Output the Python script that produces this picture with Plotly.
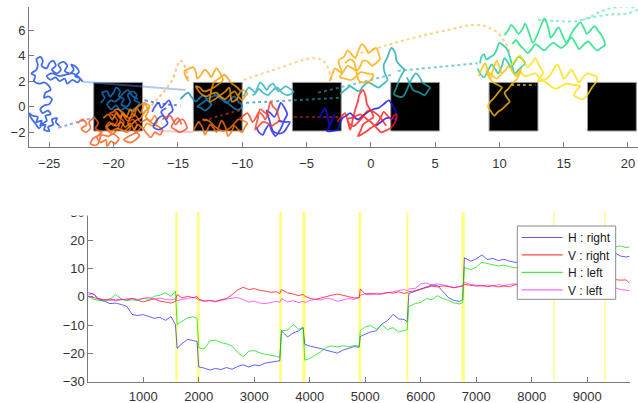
import plotly.graph_objects as go

# ---------------- bottom panel data (eye position traces) ----------------
t = [0, 100, 200, 300, 400, 500, 600, 700, 800, 900, 1000, 1100, 1200, 1300, 1400, 1500, 1580,
     1610, 1700, 1800, 1900, 1970,
     2000, 2100, 2200, 2300, 2400, 2500, 2600, 2700, 2800, 2900, 3000, 3100, 3200, 3300, 3400, 3460,
     3490, 3600, 3700, 3800, 3880,
     3910, 4000, 4100, 4200, 4300, 4400, 4500, 4600, 4700, 4800, 4890,
     4910, 5000, 5100, 5200, 5300, 5400, 5500, 5600, 5700, 5755,
     5785, 5900, 6000, 6100, 6200, 6300, 6400, 6500, 6600, 6700, 6755,
     6785, 6900, 7000, 7100, 7200, 7300, 7400, 7500, 7600, 7700, 7800, 7900, 8000, 8100, 8200,
     8300, 8400, 8500, 8600, 8700, 8800, 8900, 9000, 9100, 9200, 9300, 9400, 9500, 9600, 9700, 9760]

h_right = [1.5, 1.0, -1.0, -1.5, -2.4, -2.2, -2.7, -3.3, -6.2, -6.6, -6.3, -7.0, -7.6, -7.2, -8.3, -7.0, -9.8,
           -18.2, -16.5, -15.0, -15.6, -15.8,
           -24.8, -25.2, -25.9, -25.3, -25.7, -25.0, -25.6, -24.6, -24.0, -24.8, -24.1, -24.3, -23.4, -23.0, -22.8, -22.6,
           -12.0, -14.2, -12.8, -12.0, -10.8,
           -16.8, -17.4, -17.8, -18.3, -18.9, -19.3, -19.9, -18.8, -18.3, -17.6, -17.8,
           -14.0, -13.2, -12.4, -12.0, -9.6, -8.4, -6.2, -7.8, -8.0, -8.8,
           1.2, 2.0, 2.8, 3.4, 4.2, 4.0, 2.0, -0.3, -1.3, -1.6, -1.0,
           13.8, 12.6, 13.4, 14.8, 13.2, 13.6, 12.8, 13.3, 12.6, 12.2, 12.0, 12.5, 12.8, 13.2, 12.9,
           13.5, 13.1, 13.6, 13.9, 13.4, 13.8, 14.2, 13.7, 14.1, 14.6, 14.0, 14.8, 15.5, 14.4, 14.1, 14.3]

v_right = [0.2, -0.3, -0.9, -1.2, -0.7, -1.4, -0.9, -1.1, -0.6, -1.3, -1.8, -1.2, -0.7, -1.5, -1.9, -2.2, -1.6,
           0.8, -0.4, 0.2, -0.3, 0.1,
           -0.8, -1.5, -1.2, -1.6, -1.0, -0.6, 0.8, 2.4, 3.4, 2.6, 2.9, 2.3, 2.0, 1.6, 1.8, 1.2,
           2.6, 1.4, 1.0, 0.4, 0.9,
           0.2, -0.5, -0.9, -0.4, 0.2, 0.6, 1.0, 0.6, 0.1, -0.4, -0.3,
           2.8, 1.0, 1.2, 0.9, 1.1, 1.6, 1.3, 1.8, 1.2, 1.5,
           1.8, 2.2, 2.8, 3.4, 3.8, 3.5, 3.9, 3.6, 3.2, 3.6, 3.8,
           4.4, 4.1, 3.8, 4.0, 3.6, 3.9, 3.5, 3.8, 3.6, 4.3, 4.0, 4.4, 4.2, 4.6, 4.3,
           4.8, 4.5, 4.9, 5.2, 4.8, 5.3, 5.6, 5.2, 5.5, 5.9, 5.4, 5.7, 6.1, 5.9, 6.0, 4.8]

h_left = [0.3, -0.8, -1.2, -1.6, -0.9, 0.8, -0.6, -1.4, -1.0, -1.3, -0.5, -0.9, 0.2, 0.6, 1.4, 0.2, 2.0,
          -9.8, -8.6, -7.5, -7.0, -7.6,
          -18.0, -18.4, -15.6, -15.3, -16.2, -16.6, -17.4, -19.6, -21.2, -19.2, -19.0, -19.8, -20.3, -20.6, -21.0, -21.4,
          -12.0, -11.8, -9.8, -11.4, -11.0,
          -22.4, -21.8, -20.6, -19.4, -17.8, -17.4, -17.7, -17.3, -17.6, -17.2, -17.4,
          -12.0, -10.6, -10.2, -11.4, -9.8, -11.6, -10.9, -12.4, -11.8, -11.6,
          -3.4, -2.4, -2.0, -0.6, -1.0, 0.4, -0.6, -1.2, -2.2, -2.5, -2.0,
          10.4, 9.6, 10.5, 12.2, 11.8, 11.4, 10.9, 11.2, 10.6, 10.2, 10.8, 11.3, 11.8, 12.4, 12.0,
          12.8, 13.3, 13.9, 14.4, 14.8, 15.3, 15.1, 15.8, 16.2, 16.0, 16.6, 16.9, 17.6, 18.0, 17.4, 17.7]

v_left = [0.6, 1.2, -0.6, -1.0, -1.3, -0.8, -1.1, -0.7, -0.5, -0.9, -0.6, -0.2, -0.8, -0.4, -0.9, -1.1, -0.7,
          -1.4, -0.9, -0.5, -0.2, -0.6,
          -1.2, -1.6, -1.3, -1.8, -1.2, -0.8, -0.5, -0.2, -1.0, -1.9, -1.5, -2.2, -2.4, -2.0, -1.6, -1.9,
          -0.6, -1.8, -1.4, -2.0, -1.6,
          -2.0, -1.3, -0.9, -1.1, -0.5, -0.8, -1.6, -1.2, -0.6, -0.9, -0.2,
          0.6, 1.0, 0.7, 1.3, 1.0, 1.4, 1.7, 2.0, 2.6, 2.2,
          2.8, 3.0, 4.6, 4.9, 4.2, 4.6, 4.3, 3.8, 3.3, 3.6, 4.0,
          5.2, 4.4, 4.1, 3.8, 4.2, 3.9, 4.3, 4.0, 4.4, 4.6, 4.3, 4.5, 4.1, 4.4, 3.9,
          4.2, 3.8, 4.1, 3.7, 3.9, 3.5, 3.8, 3.4, 3.2, 3.6, 3.0, 2.8, 3.2, 2.6, 2.5, 2.2]

series_names = ["H : right", "V : right", "H : left", "V : left"]
series_colors = ["rgba(0,0,255,0.62)", "rgba(255,0,0,0.72)", "rgba(0,225,0,0.72)", "rgba(255,0,255,0.6)"]

# event markers (sample index, width in samples)
event_t = [1600, 1990, 3475, 3895, 4900, 5760, 6762, 8400, 9320]
event_w = [40, 50, 50, 60, 50, 35, 60, 25, 25]

# ---------------- top panel data (gaze trajectories, world coords) ----------------
box_centers = [-19.65, -11.9, -4.2, 3.45, 11.1, 18.75]
box_half = 1.9

path_a = [(-24.2,-1.5),(-24.5,-1.2),(-24.4,-0.9),(-24.8,-1.0),(-24.7,-1.4),(-25.1,-1.6),(-25.0,-1.9),(-25.4,-1.8),
          (-25.3,-1.4),(-25.7,-1.5),(-25.6,-1.1),(-26.0,-1.2),(-25.9,-0.8),(-26.3,-0.7),(-26.6,-0.5),(-26.4,-0.9),
          (-26.1,-1.3),(-25.8,-1.7),(-25.5,-1.3),(-25.2,-1.1),(-25.3,-0.7),(-24.9,-0.6),(-25.1,-0.3),(-25.5,-0.5),
          (-25.7,-0.2),(-25.4,0.1),(-25.0,0.2),(-24.8,0.6),(-25.1,0.8),(-25.4,0.7),(-25.3,1.1),(-24.9,1.3),
          (-25.1,1.7),(-25.4,1.9),(-25.8,1.8),(-26.2,2.0),(-26.1,2.4),(-26.4,2.6),(-26.0,2.9),(-25.9,3.3),
          (-26.0,3.7),(-25.7,3.9),(-25.5,3.6),(-25.6,3.2),(-25.2,3.0),(-25.0,3.4),(-24.7,3.6),(-24.5,3.2),
          (-24.8,2.9),(-24.4,2.6),(-24.1,2.9),(-24.3,3.3),(-23.9,3.5),(-23.6,3.2),(-23.8,2.8),(-23.4,2.6),
          (-23.1,2.9),(-23.3,3.3),(-22.9,3.1),(-22.7,2.7),(-23.0,2.4),(-22.6,2.2),(-22.8,1.9),(-23.2,2.1),
          (-23.6,1.8),(-23.8,2.2),(-24.2,2.0),(-24.5,2.3),(-24.9,2.1),(-25.2,2.4),(-24.8,2.6),(-24.2,2.4),
          (-23.7,2.5),(-23.2,2.6),(-22.7,2.3),(-22.4,1.95)]
path_b = [(-21.0,0.3),(-20.7,0.7),(-20.9,1.1),(-20.5,1.2),(-20.3,0.8),(-20.0,1.1),(-19.8,1.5),(-19.5,1.2),
          (-19.6,0.8),(-19.2,0.6),(-19.4,0.2),(-19.0,0.0),(-18.7,0.4),(-18.9,0.9),(-18.5,1.2),(-18.2,0.9),
          (-18.4,0.5),(-18.0,0.3),(-18.3,-0.1),(-18.7,-0.3),(-19.1,-0.1),(-19.5,-0.3),(-19.8,0.1),(-20.2,-0.2),
          (-20.5,0.2),(-20.2,0.5),(-19.9,0.4),(-19.6,0.6),(-19.3,1.0),(-18.9,1.3),(-18.5,0.8),(-18.1,0.6)]
path_c = [(-22.8,-1.3),(-22.4,-1.0),(-22.1,-1.4),(-22.5,-1.7),(-22.2,-2.0),(-21.8,-1.7),(-21.9,-1.2),(-21.5,-0.9),
          (-21.2,-1.3),(-21.4,-1.7),(-21.0,-2.0),(-21.3,-2.4),(-21.0,-2.8),(-20.6,-2.6),(-20.5,-3.1),(-20.2,-2.7),
          (-19.9,-2.9),(-19.6,-2.5),(-19.9,-2.2),(-20.3,-2.0),(-20.6,-1.6),(-20.3,-1.2),(-20.0,-1.5),(-19.7,-1.1),
          (-20.0,-0.7),(-20.3,-0.5),(-19.8,-0.4),(-19.5,-0.8),(-19.2,-1.2),(-19.4,-1.7),(-19.0,-2.0),(-18.7,-1.7),
          (-18.9,-1.3),(-18.5,-1.0),(-18.2,-1.4),(-18.4,-1.9),(-18.0,-2.2),(-18.3,-2.6),(-18.7,-2.8),(-19.2,-2.6),
          (-18.8,-2.3),(-18.2,-2.0),(-17.8,-1.6),(-17.5,-2.0),(-17.1,-2.4),(-16.8,-2.0),(-16.4,-2.2),(-16.2,-1.8),
          (-16.6,-1.5),(-17.0,-1.3),(-17.4,-1.0),(-17.9,-1.2),(-18.3,-0.7),(-18.8,-0.9),(-19.3,-0.6),(-19.7,-1.8),
          (-20.4,-2.3),(-21.0,-2.2),(-21.6,-2.5),(-21.8,-2.9),(-21.3,-3.0),(-20.9,-1.9)]
path_d = [(-20.8,-0.9),(-20.4,-0.6),(-20.1,-1.0),(-19.8,-0.5),(-19.5,-0.9),(-19.3,-0.4),(-19.0,-0.8),(-18.7,-0.2),
          (-18.4,-0.7),(-18.2,-0.1),(-17.9,-0.5),(-17.6,0.2),(-17.3,-0.3),(-17.5,-0.8),(-17.1,-1.1),(-16.8,-0.7),
          (-16.6,-1.2),(-17.0,-1.5),(-17.4,-1.3),(-17.7,-1.7),(-18.1,-1.4),(-18.4,-1.8),(-18.7,-1.3),(-19.1,-1.6),
          (-19.4,-1.2),(-19.8,-1.5),(-20.1,-1.3),(-20.5,-1.6),(-20.2,-1.9),(-19.7,-1.7),(-19.2,-1.9),(-18.8,-1.6),
          (-18.3,-1.1),(-17.9,-0.9),(-17.6,-0.4),(-17.2,0.0),(-17.6,0.3),(-18.0,0.1),(-18.5,-0.4),(-18.9,-1.1),
          (-19.6,-0.2),(-20.0,-0.3)]
path_f = [(-17.0,-0.4),(-16.8,0.0),(-16.5,0.3),(-16.3,-0.1),(-16.0,0.2),(-15.7,0.5),(-15.5,0.1),(-15.4,-0.3),
          (-15.7,-0.6),(-15.9,-1.0),(-16.2,-0.7),(-16.5,-0.9),(-16.8,-1.3),(-16.9,-1.6),(-16.5,-1.8),(-16.1,-1.6),
          (-15.8,-1.3),(-16.0,-0.9),(-16.3,-0.4),(-15.9,-0.1)]
path_g = [(-16.2,-1.0),(-15.9,-0.8),(-15.6,-0.7),(-15.4,-1.0),(-15.2,-1.4),(-14.9,-1.1),(-14.6,-1.0),(-14.4,-1.3),
          (-14.3,-1.7),(-14.6,-1.9),(-14.9,-2.0),(-15.2,-1.8),(-15.5,-1.6),(-15.3,-1.2),(-15.0,-0.9),(-14.7,-1.4)]
path_e = [(-14.2,2.0),(-14.4,2.4),(-14.5,2.8),(-14.1,3.0),(-13.8,3.1),(-13.6,2.7),(-13.5,2.2),(-13.2,2.5),
          (-12.9,2.9),(-12.6,2.6),(-12.4,2.3),(-12.2,2.7),(-12.0,3.0),(-11.7,2.6),(-11.5,2.1),(-11.8,1.8),
          (-12.2,1.5),(-12.6,1.3),(-13.0,1.2),(-13.3,1.5),(-13.6,1.6),(-13.2,1.0),(-12.8,0.8),(-12.4,1.0),
          (-12.0,1.1),(-11.7,0.8),(-11.3,0.6),(-11.0,0.9),(-10.6,1.2),(-10.3,0.8),(-10.0,0.5),(-9.8,0.8),
          (-9.6,1.0),(-9.9,1.3),(-10.2,1.1),(-10.4,0.6),(-10.8,0.4),(-11.0,1.5),(-11.3,1.2),(-11.7,0.9),
          (-12.1,0.6),(-12.5,0.4),(-12.2,1.9),(-11.8,2.2),(-11.4,2.5),(-11.1,2.2),(-10.8,1.8),(-10.5,1.6),
          (-10.1,1.2)]
path_h = [(-14.8,0.6),(-14.5,0.9),(-14.2,1.1),(-13.9,0.7),(-13.6,0.4),(-13.3,0.7),(-13.0,0.9),(-12.7,0.5),
          (-12.4,0.2),(-12.6,-0.1),(-12.9,-0.3),(-13.2,-0.1),(-13.5,0.0),(-13.1,0.3),(-12.7,0.6),(-12.3,0.8),
          (-11.9,0.9),(-11.6,0.6),(-11.2,0.3),(-10.9,0.6),(-10.6,0.8),(-10.3,0.4),(-10.0,0.1),(-10.2,-0.2),
          (-10.5,-0.2),(-10.9,0.1),(-11.4,0.5),(-11.8,0.7),(-12.2,1.0)]
path_i = [(-9.9,0.8),(-9.7,1.2),(-9.5,1.5),(-9.2,1.3),(-9.0,1.1),(-8.8,1.5),(-8.6,1.9),(-8.3,1.6),(-8.1,1.3),
          (-7.9,1.6),(-7.6,1.8),(-7.4,1.5),(-7.2,1.2),(-6.9,1.4),(-6.6,1.6),(-6.3,1.4),(-6.0,1.2),(-6.2,1.0),
          (-6.5,0.9),(-6.9,1.1),(-7.3,1.5),(-7.7,1.2),(-8.0,0.9),(-8.4,1.1),(-8.7,1.4),(-9.0,1.0),(-9.2,0.9)]
path_j = [(-13.8,-1.9),(-13.6,-1.5),(-13.4,-1.2),(-13.1,-1.6),(-12.9,-2.2),(-12.7,-1.8),(-12.5,-1.4),(-12.2,-1.7),
          (-12.0,-2.0),(-11.8,-1.5),(-11.6,-1.1),(-11.3,-1.6),(-11.1,-2.3),(-10.8,-1.9),(-10.6,-1.5),(-10.3,-1.8),
          (-10.0,-2.0),(-9.8,-1.6),(-9.6,-1.3),(-9.9,-1.1),(-10.3,-1.0),(-10.6,-1.3),(-11.0,-1.7),(-11.5,-1.9),
          (-12.2,-1.5),(-12.6,-1.1),(-13.1,-1.0)]
path_k = [(-10.2,-0.9),(-9.9,-0.7),(-9.6,-0.5),(-9.4,-0.8),(-9.2,-1.2),(-8.9,-0.8),(-8.7,-0.4),(-8.4,-0.7),
          (-8.2,-1.0),(-8.0,-0.4),(-7.8,0.4),(-7.6,0.0),(-7.3,-0.3),(-7.2,-0.7),(-7.1,-1.1),(-7.4,-1.3),
          (-7.7,-1.5),(-8.0,-1.3),(-8.4,-1.2),(-8.7,-1.5),(-9.0,-1.8),(-8.8,-1.0),(-8.6,-0.2),(-8.2,-0.5),(-7.9,-0.7)]
path_l = [(-8.9,-1.6),(-8.7,-2.0),(-8.4,-2.2),(-8.2,-1.8),(-7.9,-1.4),(-7.7,-1.9),(-7.4,-2.3),(-7.1,-1.9),
          (-6.9,-1.5),(-6.7,-1.0),(-6.5,-0.6),(-6.7,-0.1),(-7.0,0.3),(-7.2,-0.2),(-7.5,-0.8),(-7.8,-0.5),
          (-8.1,-0.3),(-7.9,-1.0),(-7.6,-1.9),(-7.2,-2.1),(-6.8,-2.0),(-6.5,-1.6),(-6.3,-1.2),(-6.7,-1.2),(-7.2,-1.1)]
path_m = [(-3.2,2.0),(-3.0,2.5),(-2.8,3.0),(-2.5,2.8),(-2.2,2.6),(-2.4,3.1),(-2.5,3.6),(-2.1,3.9),(-1.8,4.4),
          (-1.5,4.1),(-1.2,3.8),(-1.0,4.3),(-0.7,4.9),(-0.4,4.6),(-0.2,4.2),(0.1,4.4),(0.4,4.6),(0.6,4.2),
          (0.7,3.7),(0.4,3.4),(0.1,3.2),(-0.2,3.5),(-0.6,3.6),(-0.8,3.2),(-1.1,2.8),(-1.4,3.0),(-1.8,3.2),
          (-2.1,2.8),(-2.4,2.3),(-2.0,2.2),(-1.5,2.1),(-1.1,2.4),(-0.8,2.7),(-0.3,2.6),(0.2,2.5),(0.0,2.1),
          (-0.3,1.9),(-0.9,2.0),(-1.3,3.5),(-1.6,3.7),(-2.0,3.4)]
path_n = [(-2.4,1.0),(-2.0,1.3),(-1.6,1.6),(-1.3,1.4),(-0.9,1.2),(-0.6,1.6),(-0.2,1.9),(0.2,1.7),(0.6,1.5),
          (1.0,1.8),(1.3,2.1),(1.1,2.6),(1.0,3.2),(1.3,3.9),(1.6,4.6),(1.9,4.2),(2.0,3.6),(2.3,3.2),(2.6,2.9),
          (2.4,2.5),(2.2,2.1),(2.0,1.5),(1.8,1.0),(2.1,0.8),(2.5,0.8),(2.8,1.3),(3.0,1.8),(3.2,2.2),(3.5,2.6),
          (3.8,2.3),(4.0,1.9),(4.3,1.7),(4.6,1.5),(4.4,1.2),(4.2,0.9),(3.8,1.1),(3.3,1.3),(3.0,1.9),(2.8,2.3)]
path_o = [(-2.6,-1.2),(-2.3,-0.8),(-2.0,-0.5),(-1.8,-1.1),(-1.6,-1.8),(-1.4,-1.0),(-1.2,-0.2),(-1.0,0.4),
          (-0.9,0.9),(-0.6,1.3),(-0.4,0.8),(-0.3,0.2),(0.0,-0.3),(0.2,-0.8),(-0.2,-1.1),(-0.6,-1.4),(-0.8,-1.9),
          (-1.0,-2.3),(-0.6,-2.1),(-0.3,-1.9),(0.1,-1.6),(0.5,-1.3),(0.8,-0.8),(1.0,-0.4),(1.3,-0.7),(1.6,-1.0),
          (1.8,-0.7),(2.0,-0.6),(1.9,-1.2),(1.5,-1.7),(1.1,-1.9),(0.8,-2.0),(0.4,-1.6),(0.0,-1.2),(-0.4,-0.9),
          (-0.8,-0.6),(-1.3,-0.8),(-1.8,-1.0),(-1.5,-1.5),(-1.3,-1.5),(-0.7,-0.9),(-0.2,-0.3),(0.5,-0.6),(1.2,-1.5)]
path_p = [(-4.0,-0.9),(-3.8,-0.5),(-3.6,-0.1),(-3.4,-0.6),(-3.2,-1.5),(-3.0,-1.0),(-2.8,-0.6),(-3.1,-1.3),
          (-3.4,-1.9),(-3.0,-1.9),(-2.6,-1.8),(-2.4,-1.3),(-2.2,-0.9),(-1.9,-0.7),(-1.6,-0.5),(-1.3,-0.8),
          (-1.0,-1.0),(-0.6,-0.7),(-0.2,-0.4),(0.2,-0.2),(0.6,-0.1),(1.0,0.2),(1.4,0.5),(1.7,0.1),(1.9,-0.3),
          (2.0,-1.0),(1.6,-0.9),(1.2,-0.9),(0.8,-1.2),(0.4,-1.5)]
path_q = [(8.3,3.0),(8.5,2.6),(8.8,2.3),(9.1,2.8),(9.4,3.3),(9.7,2.9),(9.9,2.6),(10.2,3.2),(10.4,3.8),
          (10.7,3.4),(10.9,3.1),(11.2,3.5),(11.5,3.9),(11.8,3.7),(12.0,3.4),(11.6,3.0),(11.2,2.6),(10.9,3.6),
          (10.6,4.5),(10.3,4.8),(10.0,5.0),(9.8,4.5),(9.6,4.1),(9.3,3.9),(9.0,3.7),(8.8,4.1),(8.6,3.9),(8.5,3.4)]
path_r = [(10.4,5.6),(10.7,6.0),(10.9,6.4),(11.2,6.1),(11.5,5.7),(11.8,6.1),(12.0,6.5),(12.3,5.8),(12.6,5.0),
          (12.9,5.5),(13.1,6.0),(13.3,6.5),(13.5,6.9),(13.8,6.2),(14.0,5.4),(14.3,5.8),(14.6,6.2),(14.9,5.6),
          (15.2,5.0),(15.5,5.5),(15.7,5.9),(16.0,6.3),(16.3,6.6),(16.6,6.1),(16.8,5.7),(17.1,6.0),(17.4,6.3),
          (17.7,5.9),(18.0,5.5),(18.2,4.8),(17.9,4.6),(17.6,4.4),(17.2,4.8),(16.9,5.1),(16.5,4.8),(16.2,4.5),
          (15.9,5.0),(15.6,5.4),(15.2,4.9),(14.8,4.6),(14.5,4.8),(14.2,5.0),(13.8,4.7),(13.5,4.4),(13.1,4.7),
          (12.8,4.9),(12.5,4.5),(12.2,4.2),(11.9,4.5),(11.6,4.8),(11.3,5.2),(11.0,4.9)]
path_s = [(8.4,2.4),(8.6,2.9),(8.9,3.4),(9.1,2.8),(9.3,2.2),(9.5,2.9),(9.8,3.6),(10.0,3.1),(10.2,2.6),
          (10.5,2.9),(10.7,3.2),(11.0,2.8),(11.3,2.4),(11.5,2.7),(11.7,3.0),(11.4,2.2),(11.0,1.8),(10.7,1.4),
          (10.4,1.1),(10.6,0.7),(10.8,0.4),(10.5,0.1),(10.2,-0.2),(9.9,-0.4),(9.6,-0.7),(9.3,-0.3),(9.1,0.0),
          (9.3,0.4),(9.6,0.7),(9.9,1.1),(10.2,1.5),(9.9,1.7),(9.5,1.9),(9.2,2.3),(9.0,2.8),(9.4,2.5),(9.8,2.2),
          (10.1,2.5),(10.5,2.9)]
path_t = [(10.9,3.2),(11.2,3.6),(11.6,4.0),(11.9,3.5),(12.2,3.1),(12.5,3.4),(12.8,3.8),(13.1,3.2),(13.4,2.7),
          (13.2,2.3),(13.0,2.0),(13.5,2.1),(13.9,2.4),(14.2,2.9),(14.5,3.3),(14.8,2.7),(15.0,2.2),(15.3,2.5),
          (15.6,2.9),(15.9,2.4),(16.2,1.9),(16.5,2.3),(16.9,2.6),(17.2,2.5),(17.6,2.3),(17.5,1.9),(17.2,1.5),
          (16.9,1.0),(16.5,0.6),(16.1,0.7),(15.8,0.9),(16.0,1.3),(16.3,1.6),(15.8,1.7),(15.2,1.8),(14.8,1.6),
          (14.4,1.4),(14.0,1.6),(13.6,1.9),(13.2,2.2),(12.8,2.6),(12.4,2.5),(12.0,2.4),(11.6,2.8)]

# saccade / connecting segments (drawn dotted)
link_1 = [(-24.3,-1.65),(-22.8,-1.2),(-21.4,-0.8)]
link_2 = [(-22.4,1.95),(-18.0,1.6),(-14.4,1.3)]
link_3 = [(-17.7,-0.6),(-16.5,0.7),(-15.5,2.0),(-14.8,3.6),(-14.4,3.0),(-14.2,2.0)]
link_4 = [(-9.9,2.1),(-7.2,3.0),(-4.5,3.8),(-3.6,3.5),(-3.0,1.9)]
link_5 = [(-13.5,-1.25),(-11.7,-0.7),(-9.9,-0.2)]
link_6 = [(-6.0,-0.8),(-4.2,-0.8),(-2.4,-0.8)]
link_7 = [(-17.6,0.5),(-16.0,0.2),(-14.8,0.1)]
link_8 = [(-9.7,0.3),(-6.0,0.5),(-2.4,0.7)]
link_9 = [(-4.1,1.1),(-1.2,1.8),(1.6,2.5)]
link_10 = [(2.1,2.8),(5.2,3.1),(8.3,3.4)]
link_11 = [(-0.8,4.2),(3.0,5.3),(6.0,6.0),(8.3,6.4),(9.7,5.9),(10.4,5.1),(10.8,4.3)]
link_12 = [(13.0,6.8),(14.5,6.7),(16.0,6.7),(17.0,7.0),(18.0,7.5),(19.2,7.8),(20.3,7.8),(20.7,7.6),
           (20.0,7.3),(18.5,7.2),(17.3,7.0),(16.5,6.8)]
link_13 = [(10.9,1.7),(11.8,1.7),(12.8,1.7)]
link_14 = [(-16.5,-1.9),(-15.2,-1.95),(-13.8,-2.0)]

fig = go.Figure()

# ---------- top panel ----------
solid_paths = [
    (path_a, "rgb(20,75,230)"), (path_b, "rgb(20,120,205)"), (path_c, "rgb(255,90,20)"),
    (path_d, "rgb(255,135,0)"), (path_f, "rgb(30,55,235)"), (path_g, "rgb(245,75,45)"),
    (path_h, "rgb(25,135,200)"), (path_e, "rgb(255,155,0)"), (path_i, "rgb(40,175,195)"),
    (path_j, "rgb(255,115,0)"), (path_l, "rgb(25,35,240)"), (path_k, "rgb(250,55,35)"),
    (path_p, "rgb(15,15,240)"), (path_n, "rgb(25,170,175)"), (path_m, "rgb(255,170,0)"),
    (path_o, "rgb(255,25,25)"), (path_q, "rgb(20,205,150)"), (path_r, "rgb(20,225,125)"),
    (path_t, "rgb(255,225,0)"), (path_s, "rgb(255,190,0)"),
]
dotted_paths = [
    (link_1, "rgba(60,110,230,0.6)", "dot"), (link_2, "rgba(80,140,230,0.45)", "solid"),
    (link_3, "rgba(255,165,70,0.7)", "dot"), (link_4, "rgba(255,190,100,0.7)", "dot"),
    (link_5, "rgba(170,40,30,0.8)", "dot"), (link_6, "rgba(150,30,30,0.8)", "dot"),
    (link_7, "rgba(40,90,200,0.7)", "dot"), (link_8, "rgba(30,150,170,0.7)", "dot"),
    (link_9, "rgba(40,170,180,0.6)", "dot"), (link_10, "rgba(40,170,180,0.6)", "dot"),
    (link_11, "rgba(255,200,100,0.8)", "dot"), (link_12, "rgba(100,230,180,0.7)", "dot"),
    (link_13, "rgba(255,190,80,0.7)", "dot"), (link_14, "rgba(255,140,120,0.45)", "solid"),
]
for pts, col, dash in dotted_paths:
    fig.add_trace(go.Scatter(x=[p[0] for p in pts], y=[p[1] for p in pts], mode="lines",
                             line=dict(color=col, width=2, dash=dash, shape="spline"),
                             xaxis="x", yaxis="y", showlegend=False, hoverinfo="skip"))
for pts, col in solid_paths:
    fig.add_trace(go.Scatter(x=[p[0] for p in pts], y=[p[1] for p in pts], mode="lines",
                             line=dict(color=col, width=1.8, shape="spline", smoothing=0.8),
                             opacity=0.8, xaxis="x", yaxis="y", showlegend=False, hoverinfo="skip"))

# ---------- bottom panel ----------
for name, vals, col in zip(series_names, [h_right, v_right, h_left, v_left], series_colors):
    fig.add_trace(go.Scatter(x=t, y=vals, mode="lines", name=name,
                             line=dict(color=col, width=1), xaxis="x2", yaxis="y2",
                             showlegend=False))

W, H = 638, 403
shapes = []
for c in box_centers:
    shapes.append(dict(type="rect", xref="x", yref="y", x0=c - box_half, x1=c + box_half,
                       y0=-box_half, y1=box_half, fillcolor="black",
                       line=dict(color="#9a9a9a", width=1), layer="below"))
for c, w in zip(event_t, event_w):
    shapes.append(dict(type="rect", xref="x2", yref="paper", x0=c - w / 2, x1=c + w / 2,
                       y0=1 - 381.7 / H, y1=1 - 212 / H, fillcolor="rgba(255,255,40,0.6)",
                       line=dict(width=0), layer="below"))

# cover for the clipped top tick of the lower panel
shapes.append(dict(type="rect", xref="paper", yref="paper", x0=55 / W, x1=92 / W,
                   y0=1 - 215.6 / H, y1=1 - 196 / H, fillcolor="white",
                   line=dict(width=0), layer="above"))

# manual legend
shapes.append(dict(type="rect", xref="paper", yref="paper", x0=517.3 / W, x1=615.7 / W,
                   y0=1 - 299.3 / H, y1=1 - 226 / H, fillcolor="white",
                   line=dict(color="#8c8c8c", width=1), layer="above"))
annotations = []
legend_rows = [237.5, 254.8, 272.3, 289.8]
for name, col, ry in zip(series_names, series_colors, legend_rows):
    shapes.append(dict(type="line", xref="paper", yref="paper", x0=521.7 / W, x1=562.7 / W,
                       y0=1 - ry / H, y1=1 - ry / H, line=dict(color=col, width=1.2),
                       layer="above"))
    annotations.append(dict(xref="paper", yref="paper", x=566 / W, y=1 - (ry + 0.8) / H,
                            text=name, showarrow=False, xanchor="left", yanchor="middle",
                            font=dict(family="Liberation Sans, Arial", size=12, color="#1a1a1a")))

axis_common = dict(showgrid=False, zeroline=False, showline=True, linecolor="#7a7a7a",
                   linewidth=1, ticks="inside", tickcolor="#7a7a7a", ticklen=5,
                   tickfont=dict(family="Liberation Sans, Arial", size=13, color="#333333"),
                   mirror=False, automargin=False)

fig.update_layout(
    width=W, height=H, margin=dict(l=0, r=0, t=0, b=0, pad=0), autosize=False,
    paper_bgcolor="white", plot_bgcolor="white", showlegend=False,
    xaxis=dict(domain=[29 / W, 1.0], range=[-26.58, 20.78], tickvals=[-25, -20, -15, -10, -5, 0, 5, 10, 15, 20],
               anchor="y", ticklabelstandoff=5, **axis_common),
    yaxis=dict(domain=[1 - 146.7 / H, 1 - 7 / H], range=[-3.13, 7.8], tickvals=[-2, 0, 2, 4, 6],
               anchor="x", **axis_common),
    xaxis2=dict(domain=[88.3 / W, 629.7 / W], range=[10, 9764],
                tickvals=[1000, 2000, 3000, 4000, 5000, 6000, 7000, 8000, 9000],
                anchor="y2", ticklabelstandoff=3, **axis_common),
    yaxis2=dict(domain=[1 - 381.7 / H, 1 - 212 / H], range=[-30, 30],
                tickvals=[-30, -20, -10, 0, 10, 20, 30], anchor="x2", **axis_common),
    shapes=shapes, annotations=annotations,
)

fig.write_html("out.html", config={"displayModeBar": False},
               post_script="document.body.style.margin='0';document.body.style.overflow='hidden';")
